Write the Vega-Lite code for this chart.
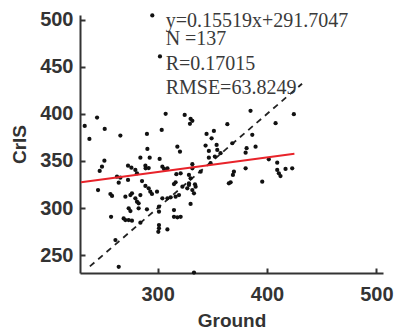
{
  "$schema": "https://vega.github.io/schema/vega-lite/v6.json",
  "width": 303,
  "height": 258,
  "autosize": "none",
  "padding": {"left": 80, "top": 15, "right": 14, "bottom": 60},
  "background": "white",
  "config": {"view": {"stroke": null}},
  "datasets": {
    "pts": [
      {"g": 295.1, "c": 504.5}, {"g": 302.1, "c": 461.0}, {"g": 244.6, "c": 396.1}, {"g": 233.3, "c": 387.2},
      {"g": 251.6, "c": 384.0}, {"g": 237.6, "c": 373.4}, {"g": 265.9, "c": 376.9}, {"g": 290.2, "c": 378.7},
      {"g": 290.6, "c": 362.8}, {"g": 284.2, "c": 353.5}, {"g": 292.7, "c": 353.5}, {"g": 251.3, "c": 350.3},
      {"g": 249.1, "c": 343.9}, {"g": 247.0, "c": 339.4}, {"g": 272.9, "c": 345.0}, {"g": 276.0, "c": 342.9},
      {"g": 279.6, "c": 340.4}, {"g": 288.8, "c": 345.0}, {"g": 291.8, "c": 342.5}, {"g": 281.1, "c": 336.9},
      {"g": 262.8, "c": 333.3}, {"g": 265.9, "c": 332.2}, {"g": 264.4, "c": 326.9}, {"g": 272.9, "c": 329.8},
      {"g": 285.7, "c": 328.7}, {"g": 307.3, "c": 400.0}, {"g": 324.7, "c": 398.9}, {"g": 330.1, "c": 394.7},
      {"g": 331.7, "c": 392.6}, {"g": 329.5, "c": 389.4}, {"g": 303.7, "c": 383.0}, {"g": 363.7, "c": 389.0},
      {"g": 351.4, "c": 381.9}, {"g": 344.7, "c": 378.7}, {"g": 349.3, "c": 374.1}, {"g": 318.0, "c": 365.2},
      {"g": 320.4, "c": 359.9}, {"g": 343.8, "c": 366.3}, {"g": 353.9, "c": 367.0}, {"g": 354.5, "c": 361.7},
      {"g": 346.8, "c": 360.6}, {"g": 357.5, "c": 358.2}, {"g": 352.3, "c": 354.6}, {"g": 368.2, "c": 368.8},
      {"g": 346.8, "c": 353.5}, {"g": 301.8, "c": 352.1}, {"g": 304.3, "c": 343.9}, {"g": 305.8, "c": 341.5},
      {"g": 331.7, "c": 346.5}, {"g": 331.7, "c": 342.2}, {"g": 348.4, "c": 347.6}, {"g": 317.1, "c": 335.9},
      {"g": 321.0, "c": 336.9}, {"g": 328.6, "c": 335.1}, {"g": 330.1, "c": 331.6}, {"g": 339.3, "c": 338.6},
      {"g": 369.7, "c": 338.6}, {"g": 368.8, "c": 335.1}, {"g": 316.4, "c": 327.3}, {"g": 328.6, "c": 326.3},
      {"g": 334.1, "c": 325.2}, {"g": 366.7, "c": 327.3}, {"g": 384.9, "c": 403.2}, {"g": 407.8, "c": 390.1},
      {"g": 424.5, "c": 399.7}, {"g": 386.5, "c": 377.7}, {"g": 389.5, "c": 365.2}, {"g": 381.3, "c": 363.5},
      {"g": 380.4, "c": 358.8}, {"g": 401.6, "c": 351.8}, {"g": 409.3, "c": 348.2}, {"g": 380.4, "c": 342.2},
      {"g": 409.3, "c": 340.4}, {"g": 410.8, "c": 336.9}, {"g": 412.3, "c": 334.0}, {"g": 416.9, "c": 341.5},
      {"g": 423.0, "c": 342.2}, {"g": 395.6, "c": 328.0}, {"g": 245.5, "c": 319.1}, {"g": 256.8, "c": 314.9},
      {"g": 258.3, "c": 312.8}, {"g": 270.5, "c": 312.0}, {"g": 275.1, "c": 313.8}, {"g": 276.5, "c": 315.6},
      {"g": 284.2, "c": 313.8}, {"g": 279.6, "c": 310.3}, {"g": 281.1, "c": 306.7}, {"g": 282.6, "c": 305.0},
      {"g": 288.8, "c": 323.4}, {"g": 291.8, "c": 321.0}, {"g": 293.3, "c": 317.3}, {"g": 294.8, "c": 314.9},
      {"g": 299.4, "c": 317.3}, {"g": 273.5, "c": 299.7}, {"g": 275.1, "c": 296.8}, {"g": 282.6, "c": 299.7},
      {"g": 290.2, "c": 298.6}, {"g": 257.4, "c": 290.7}, {"g": 268.9, "c": 289.0}, {"g": 270.5, "c": 287.2},
      {"g": 273.5, "c": 287.2}, {"g": 276.5, "c": 286.5}, {"g": 284.2, "c": 284.4}, {"g": 264.4, "c": 237.6},
      {"g": 300.6, "c": 274.8}, {"g": 301.2, "c": 281.9}, {"g": 301.2, "c": 278.4}, {"g": 308.9, "c": 277.3},
      {"g": 314.9, "c": 325.5}, {"g": 322.6, "c": 322.7}, {"g": 328.6, "c": 324.5}, {"g": 327.1, "c": 320.9},
      {"g": 331.7, "c": 319.1}, {"g": 333.2, "c": 315.6}, {"g": 334.7, "c": 322.7}, {"g": 304.3, "c": 310.3},
      {"g": 308.9, "c": 310.3}, {"g": 311.9, "c": 311.4}, {"g": 316.4, "c": 312.0}, {"g": 319.5, "c": 313.8},
      {"g": 301.2, "c": 301.4}, {"g": 301.2, "c": 296.1}, {"g": 314.9, "c": 297.9}, {"g": 330.1, "c": 304.3},
      {"g": 314.9, "c": 290.7}, {"g": 318.0, "c": 290.1}, {"g": 321.0, "c": 290.7}, {"g": 333.2, "c": 231.5},
      {"g": 365.1, "c": 326.3}, {"g": 261.4, "c": 266.0}, {"g": 308.9, "c": 342.2}, {"g": 289.0, "c": 342.2}
    ],
    "fit": [{"g": 230, "c": 327.4}, {"g": 425, "c": 357.7}],
    "oneone": [{"g": 238, "c": 238}, {"g": 432, "c": 432}],
    "notes": [
      {"g": 307.3, "c": 492.6, "t": "y=0.15519x+291.7047"},
      {"g": 307.3, "c": 473.4, "t": "N =137"},
      {"g": 307.3, "c": 446.8, "t": "R=0.17015"},
      {"g": 307.3, "c": 421.3, "t": "RMSE=63.8249"}
    ]
  },
  "encoding": {
    "x": {
      "field": "g", "type": "quantitative", "title": "Ground",
      "scale": {"domain": [229, 506], "nice": false, "zero": false},
      "axis": {
        "values": [300, 400, 500], "grid": false,
        "domainColor": "#333", "domainWidth": 2, "tickColor": "#333", "tickWidth": 2, "tickSize": -5,
        "labelFont": "Liberation Sans", "labelFontWeight": "bold", "labelFontSize": 20, "labelColor": "#333", "labelPadding": 16,
        "titleFont": "Liberation Sans", "titleFontWeight": "bold", "titleFontSize": 19, "titleColor": "#333", "titlePadding": 7
      }
    },
    "y": {
      "field": "c", "type": "quantitative", "title": "CrIS",
      "scale": {"domain": [231, 505], "nice": false, "zero": false},
      "axis": {
        "values": [250, 300, 350, 400, 450, 500], "grid": false,
        "domainColor": "#333", "domainWidth": 2, "tickColor": "#333", "tickWidth": 2, "tickSize": -5,
        "labelFont": "Liberation Sans", "labelFontWeight": "bold", "labelFontSize": 20, "labelColor": "#333", "labelPadding": 12,
        "titleFont": "Liberation Sans", "titleFontWeight": "bold", "titleFontSize": 19, "titleColor": "#333", "titlePadding": 10
      }
    }
  },
  "layer": [
    {"data": {"name": "oneone"}, "mark": {"type": "line", "color": "#222", "strokeWidth": 1.8, "strokeDash": [6, 5]}},
    {"data": {"name": "pts"}, "mark": {"type": "circle", "size": 18, "color": "#111", "opacity": 1}},
    {"data": {"name": "fit"}, "mark": {"type": "line", "color": "#e8232a", "strokeWidth": 2}},
    {"data": {"name": "notes"}, "mark": {"type": "text", "align": "left", "baseline": "alphabetic", "font": "Liberation Serif", "fontSize": 20, "color": "#3a3a3a"}, "encoding": {"text": {"field": "t"}}}
  ]
}
